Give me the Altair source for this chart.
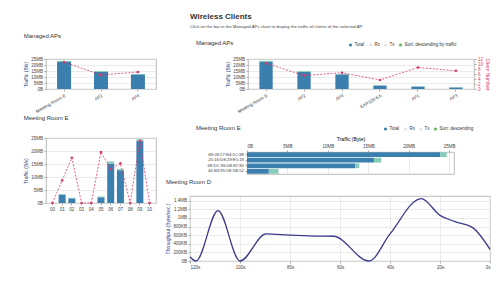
import altair as alt
import pandas as pd

FONT = "Liberation Sans"
BLUE = "#3b7fae"
TEAL = "#86cdb9"
RED = "#d8386b"
NAVY = "#3b3a8c"

# ---- Managed APs ----
ap_names = ["Meeting Room E", "AP2", "AP4", "EAP320-EA", "AP1", "AP3"]
ap_tx = [22.5, 14.4, 12.2, 2.9, 2.0, 1.3]
ap_rx = [1.0, 0.6, 0.3, 0.3, 0.1, 0.1]
ap_clients = [10.3, 5.4, 6.5, 3.6, 8.6, 7.3]

# ---- Meeting Room E, per hour ----
hours = ["00", "01", "02", "03", "04", "05", "06", "07", "08", "09", "10"]
hour_tx = [0, 3.2, 1.8, 0, 0, 2.2, 15.2, 12.6, 0, 23.8, 0]
hour_rx = [0, 0.3, 0.2, 0, 0, 0.3, 0.8, 0.5, 0, 0.7, 0]
hour_clients = [0, 4, 8, 0, 0, 9, 6, 7, 0, 11, 0]

# ---- Meeting Room E, per client ----
macs = ["68:09:27:B4:5C:88", "20:16:D8:29:E5:18", "68:DC:96:0B:87:84", "40:B3:95:5E:5B:52"]
mac_tx = [23.9, 15.7, 13.4, 2.7]
mac_rx = [0.8, 0.9, 0.5, 1.2]

# ---- Meeting Room D throughput ----
secs = [120, 117.6, 108.8, 100, 89.6, 80, 70, 62.6, 48.4, 40, 27.5, 20, 14.3, 6.8, 0]
kbps = [100, 0, 1170, 0, 630, 600, 580, 575, 0, 630, 1450, 1060, 920, 770, 270]

legend_ap = ["Total", "Rx", "Tx", "Sort: descending by traffic"]
legend_mac = ["Total", "Rx", "Tx", "Sort: descending"]
legend_colors = [BLUE, "#e2e2e2", "#e2e2e2", "#5cb85c"]

mb_label = "datum.value == 0 ? '0B' : datum.value + 'MB'"
kb_label = ("datum.value == 0 ? '0B' : (datum.value >= 1000 ? (datum.value / 1000) + 'MB' "
            ": datum.value + 'KB')")


def make_legend(x, y):
    return alt.Legend(orient="none", legendX=x, legendY=y, direction="horizontal",
                      title=None, symbolType="circle", symbolSize=10, labelFontSize=4.5,
                      columnPadding=3, labelOffset=1.5, padding=0)


def traffic_chart(cats, tx, rx, clients, width, height, title, step_pad,
                  client_dom, right_axis=False, legend=None, angle=0):
    df = pd.DataFrame({
        "cat": cats,
        "tx": tx,
        "total": [a + b for a, b in zip(tx, rx)],
        "clients": clients,
        "series": "Total",
    })
    x = alt.X("cat:N", sort=cats, title=None,
              scale=alt.Scale(paddingInner=step_pad, paddingOuter=0.3),
              axis=alt.Axis(labelAngle=angle, labelFontSize=4.5))
    base = alt.Chart(df).encode(x=x)
    yax = alt.Axis(values=[0, 5, 10, 15, 20, 25], labelExpr=mb_label,
                   title="Traffic (B/s)", titleColor="#2f3b73")
    ys = alt.Scale(domain=[0, 25], nice=False)
    if legend is not None:
        bars = base.mark_bar().encode(
            y=alt.Y("tx:Q", scale=ys, axis=yax),
            color=alt.Color("series:N",
                            scale=alt.Scale(domain=legend, range=legend_colors),
                            legend=make_legend(100, -17)),
        )
    else:
        bars = base.mark_bar(color=BLUE).encode(y=alt.Y("tx:Q", scale=ys, axis=yax))
    caps = base.mark_bar(color=TEAL).encode(
        y=alt.Y("tx:Q", scale=ys, axis=None), y2="total:Q")
    if right_axis:
        cax = alt.Axis(orient="right", values=[0, 2, 4, 6, 8, 10, 12], grid=False,
                       title="Client Number", labelColor=RED, titleColor=RED)
    else:
        cax = None
    line = base.mark_line(color=RED, strokeDash=[2, 1.5], strokeWidth=0.8).encode(
        y=alt.Y("clients:Q", scale=alt.Scale(domain=client_dom, nice=False), axis=cax))
    pts = base.mark_circle(color=RED, size=7, opacity=1).encode(
        y=alt.Y("clients:Q", scale=alt.Scale(domain=client_dom, nice=False), axis=None))
    chart = alt.layer(bars, caps, line, pts).resolve_scale(y="independent").properties(
        width=width, height=height)
    if title is not None:
        chart = chart.properties(title=title)
    return chart


def spacer(w):
    d = pd.DataFrame({"v": [0]})
    return alt.Chart(d).mark_point(opacity=0).encode(
        x=alt.X("v:Q", axis=None), y=alt.Y("v:Q", axis=None)
    ).properties(width=w, height=1, view=alt.ViewBackground(strokeOpacity=0))


left_ap = traffic_chart(ap_names[:3], ap_tx[:3], ap_rx[:3], ap_clients[:3], 110, 30,
                        alt.TitleParams("Managed APs", offset=17),
                        0.62, [0, 11.5], angle=-30)
left_hour = traffic_chart(hours, hour_tx, hour_rx, hour_clients, 110, 65,
                          alt.TitleParams("Meeting Room E", offset=14),
                          0.28, [0, 11.5])
right_ap = traffic_chart(ap_names, ap_tx, ap_rx, ap_clients, 226, 30, None,
                         0.65, [0, 12], right_axis=True, legend=legend_ap, angle=-30)

# horizontal bars of clients
df_mac = pd.DataFrame({"mac": macs, "tx": mac_tx,
                       "total": [a + b for a, b in zip(mac_tx, mac_rx)],
                       "series": "Total"})
hb = alt.Chart(df_mac).encode(
    y=alt.Y("mac:N", sort=macs, title=None,
            scale=alt.Scale(paddingInner=0.15, paddingOuter=0.05),
            axis=alt.Axis(labelFontSize=4.3, grid=False)))
xs = alt.Scale(domain=[0, 25.6], nice=False)
hbar = alt.layer(
    hb.mark_bar().encode(
        x=alt.X("tx:Q", scale=xs,
                axis=alt.Axis(orient="top", values=[0, 5, 10, 15, 20, 25],
                              labelExpr=mb_label, title="Traffic (Byte)", grid=True)),
        color=alt.Color("series:N", scale=alt.Scale(domain=legend_mac, range=legend_colors),
                        legend=make_legend(136, -26))),
    hb.mark_bar(color=TEAL).encode(x=alt.X("tx:Q", scale=xs), x2="total:Q"),
).properties(width=207, height=22)

# throughput line
df_d = pd.DataFrame({"sec": secs, "kb": kbps})
line_d = alt.Chart(df_d).mark_line(interpolate="monotone", color=NAVY, strokeWidth=1.3).encode(
    x=alt.X("sec:Q", scale=alt.Scale(domain=[0, 120], reverse=True, nice=False),
            axis=alt.Axis(values=[0, 20, 40, 60, 80, 100, 120], labelExpr="datum.value + 's'",
                          title=None, grid=True)),
    y=alt.Y("kb:Q", scale=alt.Scale(domain=[0, 1510], nice=False),
            axis=alt.Axis(values=[0, 200, 400, 600, 800, 1000, 1200, 1400],
                          labelExpr=kb_label, title="Throughput (Byte/sec.)",
                          titleColor="#3b3a8c")),
).properties(width=300, height=65, title=alt.TitleParams("Meeting Room D", offset=11))

left_col = alt.vconcat(left_ap, left_hour, spacing=0)
row1 = alt.hconcat(spacer(35), right_ap, spacing=0,
                   title=alt.TitleParams("Managed APs", offset=-4, dx=6)
                   ).resolve_scale(color="independent")
row2 = alt.hconcat(spacer(16), hbar, spacing=0,
                   title=alt.TitleParams("Meeting Room E", offset=-5, dx=6)
                   ).resolve_scale(color="independent")
upper = alt.vconcat(
    row1, row2, spacing=10,
    title=alt.TitleParams("Wireless Clients",
                          subtitle="Click on the bar in the Managed APs chart to display the traffic of clients of the selected AP.",
                          fontSize=8, fontWeight="bold", subtitleFontSize=4.3,
                          subtitleColor="#444", anchor="start", offset=10,
                          subtitlePadding=4, color="#333")).resolve_scale(color="independent")
right_col = alt.vconcat(upper, line_d, spacing=3).resolve_scale(color="independent")

chart = alt.hconcat(left_col, right_col, spacing=8).resolve_scale(
    color="independent"
).properties(
    padding={"left": 15, "top": 5, "right": 0, "bottom": 0},
    background="white",
).configure_axis(
    labelFont=FONT, titleFont=FONT, labelFontSize=4.5, titleFontSize=5,
    titleFontWeight="normal", labelColor="#444", tickSize=2, labelPadding=1.5,
    titlePadding=2, domain=False, gridColor="#dedede", gridWidth=0.6,
    tickColor="#aaa",
).configure_axisX(grid=False).configure_view(
    stroke="#a8a8a8", strokeWidth=0.8,
).configure_title(
    font=FONT, fontSize=6, fontWeight="normal", anchor="start", color="#333",
    subtitleFont=FONT,
).configure_legend(labelFont=FONT, labelColor="#333")

chart.save("out.html", embed_options={"renderer": "svg", "actions": False})
